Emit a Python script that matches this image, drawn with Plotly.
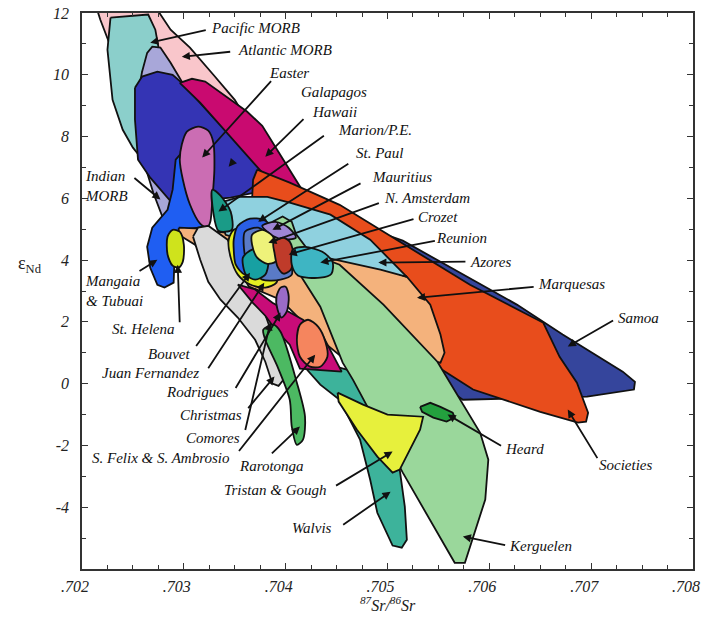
import plotly.graph_objects as go

# ---------------- data: isotope fields (87Sr/86Sr, eps Nd) ----------------
atl_sr = [0.70213, 0.70270, 0.70287, 0.70306, 0.70329, 0.70350, 0.70365, 0.70355, 0.70316, 0.70267, 0.70233, 0.70218]
atl_nd = [12.3, 12.3, 11.46, 10.88, 10.00, 9.19, 8.38, 7.57, 7.90, 8.87, 10.49, 11.78]

pac_sr = [0.70228, 0.70265, 0.70272, 0.70275, 0.70277, 0.70277, 0.70267, 0.70257, 0.70250, 0.70240, 0.70230, 0.70225]
pac_nd = [11.85, 11.95, 11.46, 10.91, 9.84, 8.55, 7.57, 7.35, 7.64, 8.22, 9.19, 10.81]

ind_sr = [0.70259, 0.70264, 0.70269, 0.70277, 0.70287, 0.70298, 0.70306, 0.70301, 0.70289, 0.70280, 0.70270, 0.70260, 0.70254, 0.70254]
ind_nd = [10.10, 10.71, 10.91, 10.88, 10.39, 9.78, 8.22, 5.96, 5.31, 5.31, 6.18, 7.25, 7.90, 9.19]

gal_sr = [0.70252, 0.70259, 0.70274, 0.70289, 0.70298, 0.70331, 0.70365, 0.70385, 0.70373, 0.70346, 0.70326, 0.70301, 0.70290, 0.70267, 0.70255, 0.70252]
gal_nd = [9.58, 9.94, 10.10, 10.00, 9.74, 8.55, 7.41, 6.60, 6.21, 6.02, 5.96, 5.63, 5.79, 6.67, 7.25, 8.55]

haw_sr = [0.70296, 0.70308, 0.70321, 0.70362, 0.70377, 0.70395, 0.70416, 0.70400, 0.70377, 0.70377, 0.70346, 0.70316]
haw_nd = [9.74, 9.87, 9.78, 8.81, 8.35, 7.41, 6.28, 6.02, 6.44, 6.83, 7.99, 9.10]

sam_sr = [0.70414, 0.70515, 0.70627, 0.70672, 0.70731, 0.70743, 0.70742, 0.70696, 0.70574, 0.70532, 0.70463, 0.70404]
sam_nd = [5.79, 4.63, 2.56, 1.59, 0.39, 0.06, -0.19, -0.42, -0.52, 0.45, 2.72, 4.98]

soc_sr = [0.70372, 0.70404, 0.70453, 0.70517, 0.70581, 0.70653, 0.70669, 0.70686, 0.70697, 0.70695, 0.70687, 0.70650,
          0.70584, 0.70549, 0.70512, 0.70463, 0.70414, 0.70375, 0.70367, 0.70368]
soc_nd = [6.93, 6.51, 5.79, 4.50, 3.20, 1.97, 0.87, 0.03, -0.94, -1.23, -1.26, -0.91,
          -0.19, 0.55, 1.42, 2.39, 3.53, 4.66, 5.96, 6.60]

man_sr = [0.70298, 0.70303, 0.70313, 0.70324, 0.70306, 0.70296, 0.70291, 0.70290, 0.70281, 0.70274, 0.70267, 0.70264, 0.70269, 0.70284, 0.70289, 0.70292]
man_nd = [7.48, 6.77, 5.40, 5.08, 5.02, 4.92, 4.18, 3.27, 3.11, 3.20, 3.75, 4.43, 5.05, 5.63, 6.28, 7.25]

eas_sr = [0.70298, 0.70303, 0.70314, 0.70324, 0.70329, 0.70330, 0.70328, 0.70326, 0.70323, 0.70316, 0.70306, 0.70299, 0.70296]
eas_nd = [7.74, 8.16, 8.32, 8.19, 7.80, 6.93, 5.96, 5.24, 5.05, 5.18, 5.80, 6.61, 7.25]

mar_sr = [0.70295, 0.70316, 0.70331, 0.70341, 0.70375, 0.70414, 0.70453, 0.70493, 0.70519, 0.70542, 0.70552, 0.70556,
          0.70552, 0.70512, 0.70468, 0.70434, 0.70395, 0.70360, 0.70331, 0.70311, 0.70295]
mar_nd = [5.05, 5.02, 4.92, 4.89, 4.66, 4.34, 4.08, 3.76, 3.46, 2.56, 1.59, 1.00,
          0.68, 0.94, 0.52, 1.43, 2.72, 3.20, 3.75, 4.50, 4.82]

azo_sr = [0.70339, 0.70355, 0.70382, 0.70404, 0.70444, 0.70483, 0.70519, 0.70493, 0.70453, 0.70414, 0.70375, 0.70341, 0.70336]
azo_nd = [5.89, 6.05, 6.05, 5.86, 5.47, 4.66, 3.46, 3.69, 3.98, 4.27, 4.50, 4.82, 5.47]

mrn_sr = [0.70328, 0.70336, 0.70346, 0.70347, 0.70334, 0.70329]
mrn_nd = [6.28, 6.09, 5.57, 4.98, 4.95, 5.53]

wal_sr = [0.70414, 0.70453, 0.70478, 0.70505, 0.70512, 0.70517, 0.70519, 0.70514, 0.70505, 0.70490, 0.70483, 0.70473, 0.70453, 0.70434]
wal_nd = [0.71, 0.52, 0.29, -1.49, -2.78, -3.98, -5.05, -5.31, -5.24, -4.18, -3.11, -1.81, -0.52, -0.03]

ker_sr = [0.70387, 0.70397, 0.70406, 0.70410, 0.70425, 0.70453, 0.70496, 0.70549, 0.70591, 0.70599, 0.70596, 0.70576,
          0.70566, 0.70515, 0.70466, 0.70456, 0.70434, 0.70411, 0.70390, 0.70383]
ker_nd = [5.24, 5.41, 5.24, 4.85, 4.20, 3.85, 2.56, 0.71, -1.59, -2.46, -3.75, -5.80,
          -5.80, -2.88, 0.13, 0.68, 2.49, 3.69, 4.50, 4.98]

com_sr = [0.70309, 0.70314, 0.70324, 0.70343, 0.70355, 0.70360, 0.70370, 0.70380, 0.70387, 0.70393, 0.70398, 0.70393,
          0.70387, 0.70380, 0.70370, 0.70353, 0.70336, 0.70324, 0.70316]
com_nd = [4.76, 5.05, 5.11, 4.66, 3.95, 3.37, 2.78, 2.23, 1.58, 0.78, 0.13, -0.07,
          0.00, 0.71, 1.42, 2.14, 2.72, 3.30, 4.02]

chr_sr = [0.70353, 0.70370, 0.70387, 0.70417, 0.70437, 0.70455, 0.70414, 0.70404, 0.70390, 0.70380, 0.70368]
chr_nd = [3.21, 3.05, 2.62, 2.07, 1.52, 0.39, 0.49, 1.26, 1.75, 2.20, 2.61]

rar_sr = [0.70378, 0.70388, 0.70395, 0.70411, 0.70419, 0.70417, 0.70411, 0.70406, 0.70404, 0.70392, 0.70380]
rar_nd = [1.75, 1.91, 1.68, 0.03, -1.07, -1.81, -1.98, -1.39, -0.52, 0.55, 1.42]

sfx_sr = [0.70414, 0.70422, 0.70432, 0.70439, 0.70441, 0.70434, 0.70424, 0.70414, 0.70411]
sfx_nd = [1.91, 2.07, 1.84, 1.36, 0.87, 0.55, 0.55, 0.87, 1.42]

rod_sr = [0.70395, 0.70400, 0.70403, 0.70401, 0.70396, 0.70392, 0.70391]
rod_nd = [3.11, 3.14, 2.82, 2.33, 2.14, 2.40, 2.82]

hel_sr = [0.70284, 0.70289, 0.70296, 0.70300, 0.70299, 0.70295, 0.70289, 0.70284]
hel_nd = [4.76, 4.98, 4.92, 4.50, 3.95, 3.76, 3.82, 4.18]

jfz_sr = [0.70344, 0.70349, 0.70360, 0.70377, 0.70393, 0.70391, 0.70380, 0.70365, 0.70353, 0.70346]
jfz_nd = [4.66, 4.98, 5.05, 4.66, 3.75, 3.27, 3.11, 3.21, 3.53, 4.08]

stp_sr = [0.70349, 0.70353, 0.70365, 0.70378, 0.70387, 0.70385, 0.70377, 0.70360, 0.70351, 0.70349]
stp_nd = [4.66, 5.11, 5.34, 5.31, 5.05, 4.02, 3.63, 3.53, 3.85, 4.34]

slt_sr = [0.70360, 0.70373, 0.70383, 0.70390, 0.70404, 0.70406, 0.70395, 0.70377, 0.70363, 0.70359]
slt_nd = [4.92, 5.05, 4.82, 4.27, 3.95, 3.53, 3.37, 3.37, 3.82, 4.40]

bou_sr = [0.70358, 0.70367, 0.70378, 0.70383, 0.70380, 0.70370, 0.70361]
bou_nd = [4.08, 4.34, 4.34, 3.95, 3.53, 3.37, 3.53]

mau_sr = [0.70377, 0.70390, 0.70403, 0.70410, 0.70400, 0.70387]
mau_nd = [5.11, 5.24, 5.05, 4.73, 4.66, 4.79]

nam_sr = [0.70367, 0.70377, 0.70387, 0.70392, 0.70390, 0.70382, 0.70372, 0.70367]
nam_nd = [4.82, 4.98, 4.79, 4.34, 3.95, 3.88, 4.08, 4.50]

cro_sr = [0.70388, 0.70397, 0.70404, 0.70408, 0.70405, 0.70398, 0.70392, 0.70389]
cro_nd = [4.56, 4.73, 4.60, 4.11, 3.69, 3.56, 3.79, 4.24]

reu_sr = [0.70407, 0.70419, 0.70436, 0.70446, 0.70445, 0.70434, 0.70412, 0.70406]
reu_nd = [4.34, 4.43, 4.27, 3.95, 3.56, 3.43, 3.50, 3.85]

tri_sr = [0.70451, 0.70476, 0.70500, 0.70535, 0.70532, 0.70522, 0.70512, 0.70505, 0.70490, 0.70470, 0.70452]
tri_nd = [-0.29, -0.68, -1.00, -1.07, -1.49, -2.14, -2.78, -2.88, -2.36, -1.49, -0.58]

hrd_sr = [0.70532, 0.70542, 0.70552, 0.70564, 0.70566, 0.70558, 0.70545, 0.70534]
hrd_nd = [-0.75, -0.62, -0.75, -0.94, -1.10, -1.23, -1.10, -0.91]

# axis ticks
sr_ticks = [0.702, 0.703, 0.704, 0.705, 0.706, 0.707, 0.708]
sr_tick_labels = [".702", ".703", ".704", ".705", ".706", ".707", ".708"]
nd_ticks = [12, 10, 8, 6, 4, 2, 0, -2, -4]
nd_tick_labels = ["12", "10", "8", "6", "4", "2", "0", "-2", "-4"]

# drawing order (back to front): name, Sr list, Nd list
FIELDS = [
    ("Atlantic MORB", atl_sr, atl_nd),
    ("Pacific MORB", pac_sr, pac_nd),
    ("Indian MORB", ind_sr, ind_nd),
    ("Galapagos", gal_sr, gal_nd),
    ("Hawaii", haw_sr, haw_nd),
    ("Samoa", sam_sr, sam_nd),
    ("Societies", soc_sr, soc_nd),
    ("Mangaia & Tubuai", man_sr, man_nd),
    ("Easter", eas_sr, eas_nd),
    ("Marquesas", mar_sr, mar_nd),
    ("Azores", azo_sr, azo_nd),
    ("Marion/P.E.", mrn_sr, mrn_nd),
    ("Walvis", wal_sr, wal_nd),
    ("Kerguelen", ker_sr, ker_nd),
    ("Comores", com_sr, com_nd),
    ("Christmas", chr_sr, chr_nd),
    ("Rarotonga", rar_sr, rar_nd),
    ("S. Felix & S. Ambrosio", sfx_sr, sfx_nd),
    ("Rodrigues", rod_sr, rod_nd),
    ("St. Helena", hel_sr, hel_nd),
    ("Juan Fernandez", jfz_sr, jfz_nd),
    ("St. Paul", stp_sr, stp_nd),
    ("Slate", slt_sr, slt_nd),
    ("Bouvet", bou_sr, bou_nd),
    ("Mauritius", mau_sr, mau_nd),
    ("N. Amsterdam", nam_sr, nam_nd),
    ("Crozet", cro_sr, cro_nd),
    ("Reunion", reu_sr, reu_nd),
    ("Tristan & Gough", tri_sr, tri_nd),
    ("Heard", hrd_sr, hrd_nd),
]

STYLE = {
    "Atlantic MORB": ("#F9C6CB", "linear"),
    "Pacific MORB": ("#8BCFCB", "linear"),
    "Indian MORB": ("#A8A7D9", "linear"),
    "Galapagos": ("#3434B4", "linear"),
    "Hawaii": ("#C90A70", "linear"),
    "Samoa": ("#35459C", "linear"),
    "Societies": ("#E84D1C", "linear"),
    "Mangaia & Tubuai": ("#1F5EF2", "linear"),
    "Easter": ("#CB6DB3", "spline"),
    "Marquesas": ("#F4B27C", "linear"),
    "Azores": ("#8FD1DF", "linear"),
    "Marion/P.E.": ("#1A9B87", "spline"),
    "Walvis": ("#3DB39B", "linear"),
    "Kerguelen": ("#9AD79B", "linear"),
    "Comores": ("#DADADA", "linear"),
    "Christmas": ("#C80C78", "linear"),
    "Rarotonga": ("#4CB962", "spline"),
    "S. Felix & S. Ambrosio": ("#F5855E", "spline"),
    "Rodrigues": ("#9A6BC7", "spline"),
    "St. Helena": ("#CFE31C", "spline"),
    "Juan Fernandez": ("#E6EF22", "spline"),
    "St. Paul": ("#2A5FE6", "spline"),
    "Slate": ("#5A7AC6", "spline"),
    "Bouvet": ("#17A0A2", "spline"),
    "Mauritius": ("#9E86D4", "spline"),
    "N. Amsterdam": ("#EEF27A", "spline"),
    "Crozet": ("#BF3B2A", "spline"),
    "Reunion": ("#3EB5C3", "spline"),
    "Tristan & Gough": ("#E7F03C", "linear"),
    "Heard": ("#23A03E", "linear"),
}

fig = go.Figure()
for name, sr, nd in FIELDS:
    color, shape = STYLE[name]
    line = dict(color="#111111", width=1.8, shape=shape)
    if shape == "spline":
        line["smoothing"] = 0.8
    fig.add_trace(go.Scatter(
        x=list(sr) + [sr[0]], y=list(nd) + [nd[0]],
        mode="lines", fill="toself", fillcolor=color, line=line,
        name=name, hoverinfo="skip", showlegend=False))

# ---------------- labels and arrows ----------------
LABELS = [
    ("Pacific MORB", 0.70370, 11.52, "center"),
    ("Atlantic MORB", 0.70399, 10.81, "center"),
    ("Easter", 0.70403, 10.07, "center"),
    ("Galapagos", 0.70447, 9.45, "center"),
    ("Hawaii", 0.70448, 8.81, "center"),
    ("Marion/P.E.", 0.70488, 8.22, "center"),
    ("St. Paul", 0.70493, 7.48, "center"),
    ("Mauritius", 0.70514, 6.70, "center"),
    ("N. Amsterdam", 0.70539, 6.02, "center"),
    ("Crozet", 0.70550, 5.41, "center"),
    ("Reunion", 0.70573, 4.73, "center"),
    ("Azores", 0.70601, 3.95, "center"),
    ("Marquesas", 0.70681, 3.24, "center"),
    ("Samoa", 0.70746, 2.14, "center"),
    ("Societies", 0.70734, -2.62, "center"),
    ("Heard", 0.70635, -2.11, "center"),
    ("Kerguelen", 0.70650, -5.24, "center"),
    ("Walvis", 0.70426, -4.66, "center"),
    ("Tristan &amp; Gough", 0.70390, -3.43, "center"),
    ("Rarotonga", 0.70386, -2.66, "center"),
    ("S. Felix &amp; S. Ambrosio", 0.70278, -2.40, "center"),
    ("Comores", 0.70329, -1.75, "center"),
    ("Christmas", 0.70327, -1.03, "center"),
    ("Rodrigues", 0.70313, -0.26, "center"),
    ("Juan Fernandez", 0.70267, 0.33, "center"),
    ("Bouvet", 0.70285, 0.97, "center"),
    ("St. Helena", 0.70260, 1.78, "center"),
    ("Mangaia<br>&amp; Tubuai", 0.70201, 3.01, "left"),
    ("Indian<br>MORB", 0.70201, 6.41, "left"),
]

# (tail Sr, tail Nd, tip Sr, tip Nd)
ARROWS = [
    (0.70323, 11.46, 0.70267, 11.04),
    (0.70347, 10.75, 0.70298, 10.58),
    (0.70387, 9.84, 0.70318, 7.32),
    (0.70350, 7.25, 0.70344, 7.02),
    (0.70419, 8.61, 0.70380, 7.35),
    (0.70439, 8.06, 0.70334, 5.57),
    (0.70463, 7.15, 0.70373, 5.24),
    (0.70475, 6.51, 0.70387, 4.98),
    (0.70493, 5.86, 0.70383, 4.56),
    (0.70527, 5.34, 0.70403, 4.18),
    (0.70548, 4.63, 0.70434, 3.92),
    (0.70578, 3.95, 0.70491, 3.92),
    (0.70645, 3.14, 0.70529, 2.78),
    (0.70723, 2.07, 0.70677, 1.20),
    (0.70707, -2.46, 0.70677, -0.84),
    (0.70613, -2.04, 0.70559, -1.00),
    (0.70617, -5.24, 0.70574, -4.95),
    (0.70455, -4.60, 0.70503, -3.50),
    (0.70448, -3.33, 0.70505, -2.20),
    (0.70385, -2.30, 0.70414, -1.39),
    (0.70353, -2.23, 0.70429, 0.94),
    (0.70360, -1.55, 0.70385, 1.99),
    (0.70362, -0.84, 0.70389, 0.23),
    (0.70350, -0.19, 0.70395, 2.30),
    (0.70323, 0.45, 0.70379, 3.27),
    (0.70311, 1.17, 0.70365, 3.59),
    (0.70296, 1.94, 0.70294, 3.85),
    (0.70255, 3.62, 0.70274, 4.01),
    (0.70250, 6.70, 0.70277, 5.96),
]

FONT = "Liberation Serif, DejaVu Serif, serif"
annotations = []
for tx, ty, hx, hy in ARROWS:
    annotations.append(dict(
        x=hx, y=hy, ax=tx, ay=ty, xref="x", yref="y", axref="x", ayref="y",
        text="", showarrow=True, arrowhead=2, arrowsize=0.9, arrowwidth=1.8,
        arrowcolor="#111111", standoff=0, startstandoff=0))
for text, lx, ly, anchor in LABELS:
    annotations.append(dict(
        x=lx, y=ly, xref="x", yref="y", text=text, showarrow=False,
        xanchor=anchor, yanchor="middle", align=anchor,
        font=dict(family=FONT, size=15, color="#111111", style="italic")))

annotations.append(dict(
    x=0.5008, y=-0.063, xref="paper", yref="paper", showarrow=False,
    text="<sup>87</sup>Sr/<sup>86</sup>Sr", xanchor="center", yanchor="middle",
    font=dict(family=FONT, size=16, color="#222222", style="italic")))
annotations.append(dict(
    x=-0.085, y=0.547, xref="paper", yref="paper", showarrow=False,
    text="ε<sub>Nd</sub>", xanchor="center", yanchor="middle",
    font=dict(family=FONT, size=18, color="#222222")))

axis_common = dict(
    ticks="inside", ticklen=6, tickwidth=1.2, tickcolor="#333333",
    showline=True, linecolor="#333333", linewidth=1.5, mirror="ticks",
    showgrid=False, zeroline=False, automargin=False, ticklabeloverflow="allow",
    tickfont=dict(family=FONT, size=16, color="#222222", style="italic"),
)

fig.update_layout(
    width=703, height=634,
    margin=dict(l=82, r=10, t=13, b=65),
    paper_bgcolor="white", plot_bgcolor="white",
    showlegend=False,
    xaxis=dict(range=[0.702, 0.708], tickmode="array", tickvals=sr_ticks, ticktext=sr_tick_labels,
               minor=dict(tick0=0.702, dtick=0.00025, ticks="inside", ticklen=4, tickcolor="#333333", showgrid=False),
               ticklabelstandoff=2, ticklabelshift=-7, **axis_common),
    yaxis=dict(range=[-6, 12], tickmode="array", tickvals=nd_ticks, ticktext=nd_tick_labels,
               minor=dict(tick0=0, dtick=1, ticks="inside", ticklen=4, tickcolor="#333333", showgrid=False),
               ticklabelstandoff=8, **axis_common),
    annotations=annotations,
)

# remove the browser's default page margin so the 703x634 figure fills the window exactly
fig.write_html("out.html", config={"displayModeBar": False},
               post_script="document.body.style.margin='0';document.body.style.padding='0';")
